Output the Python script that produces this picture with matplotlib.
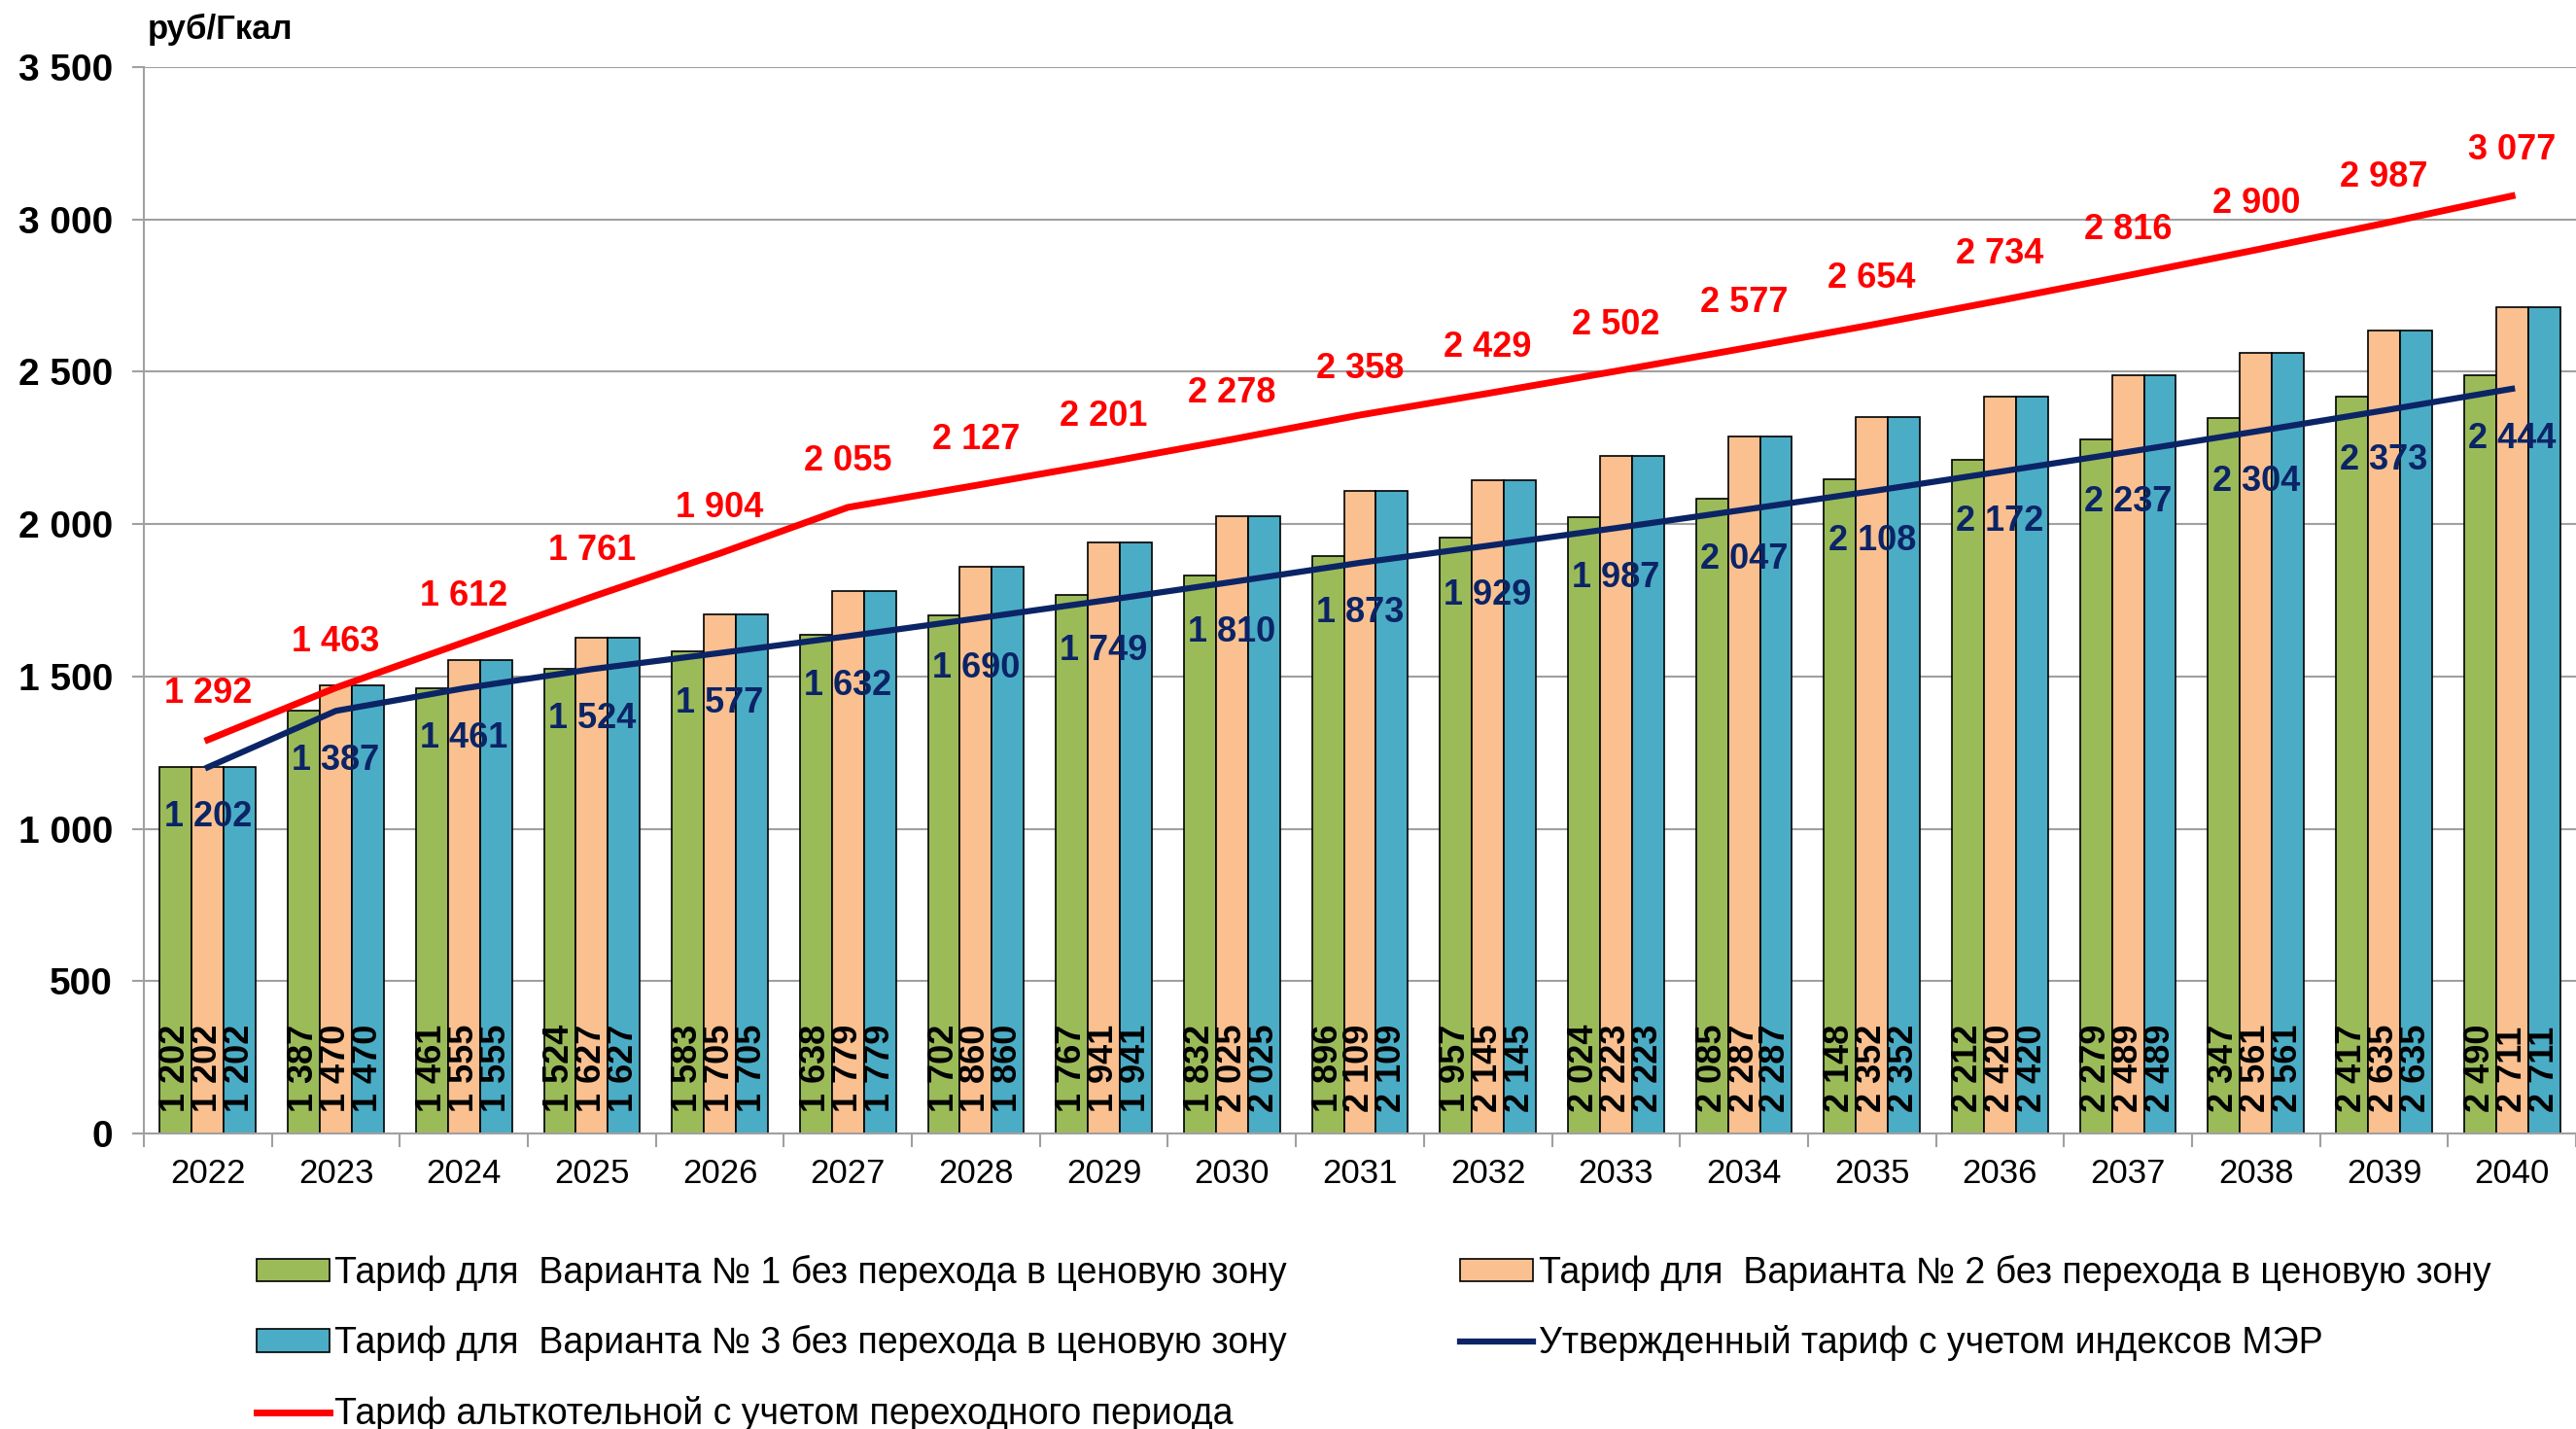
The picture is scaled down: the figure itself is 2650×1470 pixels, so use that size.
import numpy as np
import matplotlib
matplotlib.use("Agg")
from matplotlib import pyplot as plt
from matplotlib.ticker import FuncFormatter

plt.rcParams['font.family'] = ['Liberation Sans', 'DejaVu Sans']

#Data
years = ['2022', '2023', '2024', '2025', '2026', '2027', '2028', '2029', '2030', '2031',
         '2032', '2033', '2034', '2035', '2036', '2037', '2038', '2039', '2040']
var1 = [1202, 1387, 1461, 1524, 1583, 1638, 1702, 1767, 1832, 1896,
        1957, 2024, 2085, 2148, 2212, 2279, 2347, 2417, 2490]
var2 = [1202, 1470, 1555, 1627, 1705, 1779, 1860, 1941, 2025, 2109,
        2145, 2223, 2287, 2352, 2420, 2489, 2561, 2635, 2711]
var3 = [1202, 1470, 1555, 1627, 1705, 1779, 1860, 1941, 2025, 2109,
        2145, 2223, 2287, 2352, 2420, 2489, 2561, 2635, 2711]
mer = [1202, 1387, 1461, 1524, 1577, 1632, 1690, 1749, 1810, 1873,
       1929, 1987, 2047, 2108, 2172, 2237, 2304, 2373, 2444]
alt = [1292, 1463, 1612, 1761, 1904, 2055, 2127, 2201, 2278, 2358,
       2429, 2502, 2577, 2654, 2734, 2816, 2900, 2987, 3077]

labels = ['Тариф для  Варианта № 1 без перехода в ценовую зону',
          'Тариф для  Варианта № 2 без перехода в ценовую зону',
          'Тариф для  Варианта № 3 без перехода в ценовую зону',
          'Утвержденный тариф с учетом индексов МЭР',
          'Тариф альткотельной с учетом переходного периода']

def fmt(v):
    return '{:,}'.format(int(v)).replace(',', ' ')

GREEN = '#9BBB59'
ORANGE = '#FAC090'
BLUE = '#4BACC6'
NAVY = '#0B2466'
RED = '#FF0000'
GRID = '#A0A0A0'

fig = plt.figure(figsize=(26.5, 14.7), dpi=100)
ax = fig.add_axes([148 / 2650, 1 - 1166 / 1470, 1 - 148 / 2650, (1166 - 69) / 1470])

x = np.arange(len(years))
w = 0.25
b1 = ax.bar(x - w, var1, w, color=GREEN, edgecolor='black', linewidth=1.2, zorder=2, label=labels[0])
b2 = ax.bar(x, var2, w, color=ORANGE, edgecolor='black', linewidth=1.2, zorder=2, label=labels[1])
b3 = ax.bar(x + w, var3, w, color=BLUE, edgecolor='black', linewidth=1.2, zorder=2, label=labels[2])

l1, = ax.plot(x, mer, color=NAVY, linewidth=4.5, zorder=3, label=labels[3])
l2, = ax.plot(x, alt, color=RED, linewidth=5, zorder=3, label=labels[4])

#Bar value labels, rotated at the base of each bar
for off, vals in [(-w, var1), (0, var2), (w, var3)]:
    for xi, v in zip(x, vals):
        ax.annotate(fmt(v), (xi + off, 0), xytext=(0, 16), textcoords='offset points',
                    rotation=90, ha='center', va='bottom', fontsize=26,
                    fontweight='bold', color='black', zorder=4)

#Line labels
for xi, v in zip(x, alt):
    ax.annotate(fmt(v), (xi, v), xytext=(0, 34), textcoords='offset points',
                ha='center', va='center', fontsize=26, fontweight='bold', color=RED, zorder=5)
for xi, v in zip(x, mer):
    ax.annotate(fmt(v), (xi, v), xytext=(0, -37), textcoords='offset points',
                ha='center', va='center', fontsize=26, fontweight='bold', color=NAVY, zorder=5)

ax.set_xlim(-0.5, len(years) - 0.5)
ax.set_ylim(0, 3500)
ax.set_yticks(np.arange(0, 3501, 500))
ax.yaxis.set_major_formatter(FuncFormatter(lambda v, p: fmt(v)))
ax.grid(axis='y', color=GRID, linewidth=1.5, zorder=0)
ax.set_axisbelow(True)

ax.set_xticks(np.arange(-0.5, len(years), 1))
ax.set_xticklabels([])
ax.set_xticks(x, minor=True)
ax.set_xticklabels(years, minor=True, fontsize=25)
ax.tick_params(axis='x', which='major', length=10, width=1.5, color=GRID)
ax.tick_params(axis='x', which='minor', length=0, pad=18)
ax.tick_params(axis='y', length=9, width=1.5, color=GRID, pad=14, labelsize=28)
for t in ax.get_yticklabels():
    t.set_fontweight('bold')

for s in ['top', 'right']:
    ax.spines[s].set_visible(False)
for s in ['left', 'bottom']:
    ax.spines[s].set_color(GRID)
    ax.spines[s].set_linewidth(1.5)

fig.text(152 / 2650, 1 - 30 / 1470, 'руб/Гкал', fontsize=25, fontweight='bold', va='center')

fig.legend([b1, b3, l2, b2, l1], [labels[0], labels[2], labels[4], labels[1], labels[3]],
           ncol=2, loc='upper left', bbox_to_anchor=(245 / 2650, 1 - 1272 / 1470),
           frameon=False, fontsize=27, handlelength=2.0, handleheight=0.6,
           handletextpad=0.15, columnspacing=4.75, labelspacing=0.95, borderpad=0)

fig.savefig('out.png', dpi=100)
